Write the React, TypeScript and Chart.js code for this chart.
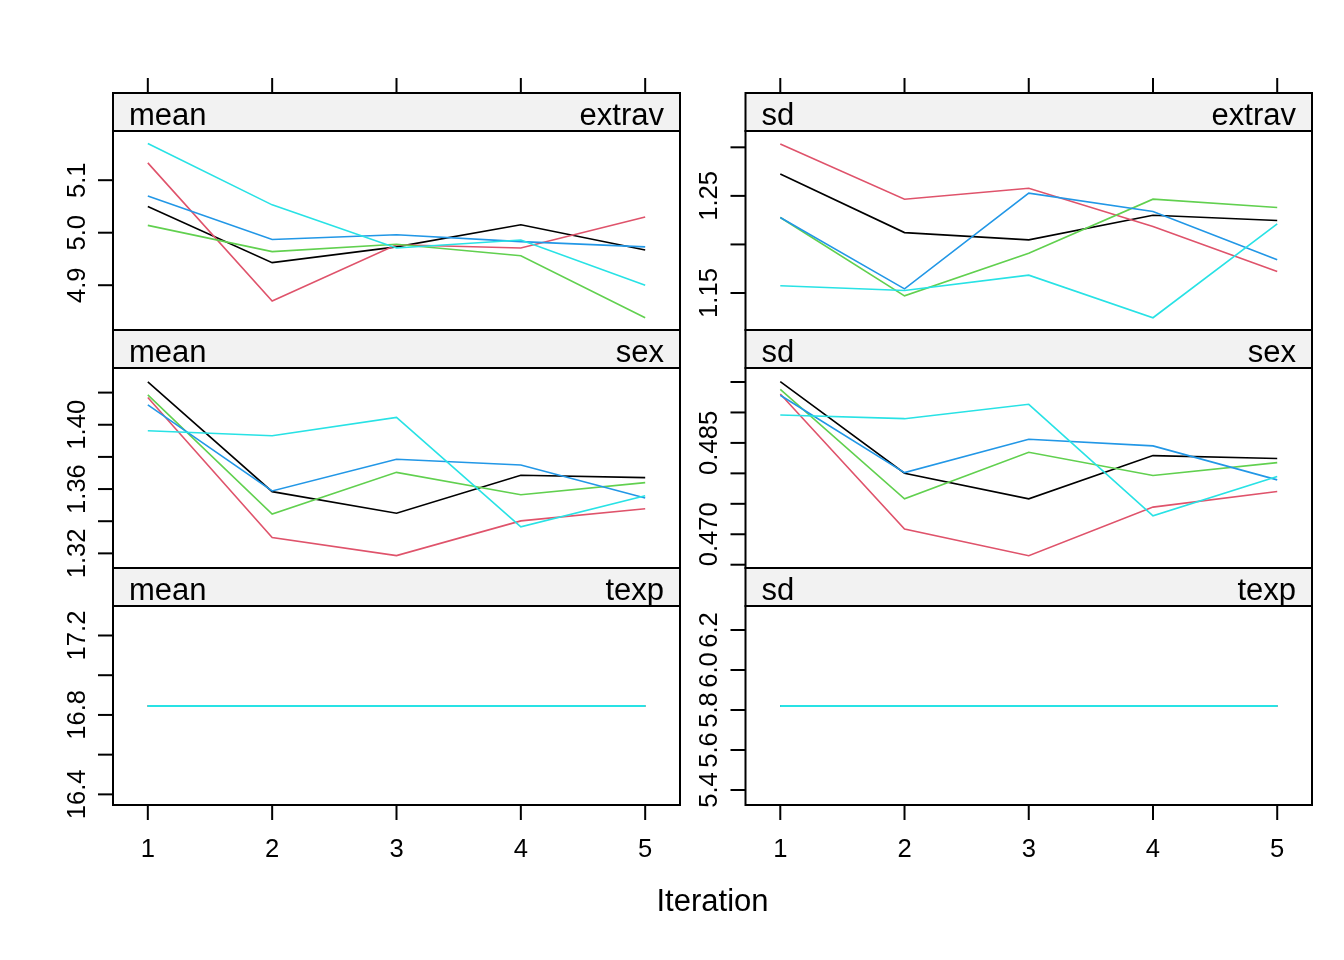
import React, { useEffect, useRef } from "react";
import { Chart, registerables } from "chart.js";
Chart.register(...registerables);

const W = 1344;
const H = 960;

const iterations = [1, 2, 3, 4, 5];
const chainColors = ["#000000", "#DF536B", "#61D04F", "#2297E6", "#28E2E5"];
const xTickLabels = ["1", "2", "3", "4", "5"];
const xAxisTitle = "Iteration";

// chains: black, red, green, blue, cyan
const meanExtrav = [
  [5.05, 4.943, 4.973, 5.015, 4.967],
  [5.133, 4.87, 4.977, 4.971, 5.03],
  [5.014, 4.964, 4.978, 4.956, 4.838],
  [5.07, 4.987, 4.996, 4.983, 4.973],
  [5.17, 5.053, 4.971, 4.986, 4.9],
];
const sdExtrav = [
  [1.2726, 1.2122, 1.2047, 1.2301, 1.2246],
  [1.3035, 1.2466, 1.2579, 1.2184, 1.1721],
  [1.2277, 1.1471, 1.191, 1.2466, 1.238],
  [1.2277, 1.1543, 1.2528, 1.2339, 1.1842],
  [1.1574, 1.1526, 1.1684, 1.1245, 1.2212],
];
const meanSex = [
  [1.4267, 1.3584, 1.345, 1.3686, 1.3671],
  [1.417, 1.3298, 1.3186, 1.3402, 1.3478],
  [1.4186, 1.3445, 1.3704, 1.3565, 1.364],
  [1.4124, 1.3588, 1.3785, 1.375, 1.3545],
  [1.3963, 1.3932, 1.4046, 1.3365, 1.3559],
];
const sdSex = [
  [0.49505, 0.48003, 0.47582, 0.48292, 0.48243],
  [0.49303, 0.47085, 0.46648, 0.47446, 0.47702],
  [0.4938, 0.47582, 0.48347, 0.47964, 0.48177],
  [0.49282, 0.48013, 0.48561, 0.48451, 0.47893],
  [0.48959, 0.48898, 0.49134, 0.47303, 0.47948],
];
const meanTexp = [
  [16.845, 16.845, 16.845, 16.845, 16.845],
  [16.845, 16.845, 16.845, 16.845, 16.845],
  [16.845, 16.845, 16.845, 16.845, 16.845],
  [16.845, 16.845, 16.845, 16.845, 16.845],
  [16.845, 16.845, 16.845, 16.845, 16.845],
];
const sdTexp = [
  [5.82, 5.82, 5.82, 5.82, 5.82],
  [5.82, 5.82, 5.82, 5.82, 5.82],
  [5.82, 5.82, 5.82, 5.82, 5.82],
  [5.82, 5.82, 5.82, 5.82, 5.82],
  [5.82, 5.82, 5.82, 5.82, 5.82],
];

const yTicksMeanExtrav = [4.9, 5.0, 5.1];
const yLabelsMeanExtrav = ["4.9", "5.0", "5.1"];
const yTicksSdExtrav = [1.15, 1.2, 1.25, 1.3];
const yLabelsSdExtrav = ["1.15", "", "1.25", ""];
const yTicksMeanSex = [1.32, 1.34, 1.36, 1.38, 1.4, 1.42];
const yLabelsMeanSex = ["1.32", "", "1.36", "", "1.40", ""];
const yTicksSdSex = [0.465, 0.47, 0.475, 0.48, 0.485, 0.49, 0.495];
const yLabelsSdSex = ["", "0.470", "", "", "0.485", "", ""];
const yTicksMeanTexp = [16.4, 16.6, 16.8, 17.0, 17.2];
const yLabelsMeanTexp = ["16.4", "", "16.8", "", "17.2"];
const yTicksSdTexp = [5.4, 5.6, 5.8, 6.0, 6.2];
const yLabelsSdTexp = ["5.4", "5.6", "5.8", "6.0", "6.2"];

const FONT = "'Liberation Sans', Arial, sans-serif";

type Panel = {
  stat: string;
  variable: string;
  values: number[][];
  yMin: number;
  yMax: number;
  yTicks: number[];
  yLabels: string[];
  col: number;
  row: number;
  lineWidth: number;
};

const panels: Panel[] = [
  { stat: "mean", variable: "extrav", values: meanExtrav, yMin: 4.8147, yMax: 5.1937, yTicks: yTicksMeanExtrav, yLabels: yLabelsMeanExtrav, col: 0, row: 0, lineWidth: 1.6 },
  { stat: "sd", variable: "extrav", values: sdExtrav, yMin: 1.1119, yMax: 1.3168, yTicks: yTicksSdExtrav, yLabels: yLabelsSdExtrav, col: 1, row: 0, lineWidth: 1.6 },
  { stat: "mean", variable: "sex", values: meanSex, yMin: 1.3109, yMax: 1.4353, yTicks: yTicksMeanSex, yLabels: yLabelsMeanSex, col: 0, row: 1, lineWidth: 1.6 },
  { stat: "sd", variable: "sex", values: sdSex, yMin: 0.46446, yMax: 0.4973, yTicks: yTicksSdSex, yLabels: yLabelsSdSex, col: 1, row: 1, lineWidth: 1.6 },
  { stat: "mean", variable: "texp", values: meanTexp, yMin: 16.3465, yMax: 17.3485, yTicks: yTicksMeanTexp, yLabels: yLabelsMeanTexp, col: 0, row: 2, lineWidth: 2 },
  { stat: "sd", variable: "texp", values: sdTexp, yMin: 5.325, yMax: 6.32, yTicks: yTicksSdTexp, yLabels: yLabelsSdTexp, col: 1, row: 2, lineWidth: 2 },
];

const colLeft = [113, 745.5];
const colRight = [680, 1312];
const rowStripTop = [93, 330, 568];
const rowPlotTop = [131, 368, 606];
const rowPlotBottom = [330, 568, 805];

function PanelChart({ panel }: { panel: Panel }) {
  const ref = useRef<HTMLCanvasElement | null>(null);
  useEffect(() => {
    const canvas = ref.current;
    if (!canvas) return;
    const left = colLeft[panel.col];
    const right = colRight[panel.col];
    const stripTop = rowStripTop[panel.row];
    const top = rowPlotTop[panel.row];
    const bottom = rowPlotBottom[panel.row];

    const plugin = {
      id: "latticePanel",
      afterDraw(chart: any) {
        const ctx = chart.ctx as CanvasRenderingContext2D;
        const a = chart.chartArea;
        const xs = chart.scales.x;
        const ys = chart.scales.y;
        ctx.save();
        // strip
        ctx.fillStyle = "#F2F2F2";
        ctx.fillRect(a.left, stripTop, a.right - a.left, a.top - stripTop);
        ctx.strokeStyle = "#000";
        ctx.lineWidth = 2;
        ctx.strokeRect(a.left, stripTop, a.right - a.left, a.top - stripTop);
        ctx.strokeRect(a.left, a.top, a.right - a.left, a.bottom - a.top);
        ctx.fillStyle = "#000";
        ctx.font = `31px ${FONT}`;
        ctx.textBaseline = "alphabetic";
        ctx.textAlign = "left";
        ctx.fillText(panel.stat, a.left + 16, a.top - 6.5);
        ctx.textAlign = "right";
        ctx.fillText(panel.variable, a.right - 16, a.top - 6.5);
        // y ticks
        ctx.lineWidth = 2;
        ctx.font = `25.6px ${FONT}`;
        panel.yTicks.forEach((v, i) => {
          const y = ys.getPixelForValue(v);
          ctx.beginPath();
          ctx.moveTo(a.left - 15, y);
          ctx.lineTo(a.left, y);
          ctx.stroke();
          const lab = panel.yLabels[i];
          if (lab) {
            ctx.save();
            ctx.translate(a.left - 28.5, y);
            ctx.rotate(-Math.PI / 2);
            ctx.textAlign = "center";
            ctx.textBaseline = "alphabetic";
            ctx.fillText(lab, 0, 0);
            ctx.restore();
          }
        });
        // x ticks
        if (panel.row === 0) {
          iterations.forEach((it) => {
            const x = xs.getPixelForValue(it);
            ctx.beginPath();
            ctx.moveTo(x, stripTop - 15);
            ctx.lineTo(x, stripTop);
            ctx.stroke();
          });
        }
        if (panel.row === 2) {
          ctx.textAlign = "center";
          ctx.textBaseline = "alphabetic";
          iterations.forEach((it, i) => {
            const x = xs.getPixelForValue(it);
            ctx.beginPath();
            ctx.moveTo(x, a.bottom);
            ctx.lineTo(x, a.bottom + 15);
            ctx.stroke();
            ctx.fillText(xTickLabels[i], x, 857);
          });
          if (panel.col === 0) {
            ctx.font = `31px ${FONT}`;
            ctx.fillText(xAxisTitle, (colLeft[0] + colRight[1]) / 2, 911);
          }
        }
        ctx.restore();
      },
    };

    const chart = new Chart(canvas, {
      type: "line",
      data: {
        labels: iterations,
        datasets: panel.values.map((vals, i) => ({
          label: `chain ${i + 1}`,
          data: vals.map((v, j) => ({ x: iterations[j], y: v })),
          borderColor: chainColors[i],
          backgroundColor: chainColors[i],
          borderWidth: panel.lineWidth,
          pointRadius: 0,
          tension: 0,
          fill: false,
          order: panel.values.length - i,
        })),
      },
      options: {
        responsive: false,
        maintainAspectRatio: false,
        devicePixelRatio: 1,
        animation: false,
        events: [],
        layout: {
          padding: { left, top, right: W - right, bottom: H - bottom },
        },
        plugins: {
          legend: { display: false },
          title: { display: false },
          tooltip: { enabled: false },
        },
        scales: {
          x: { type: "linear", min: 0.72, max: 5.28, display: false },
          y: { type: "linear", min: panel.yMin, max: panel.yMax, display: false },
        },
      },
      plugins: [plugin],
    });
    return () => chart.destroy();
  }, [panel]);
  return (
    <canvas
      ref={ref}
      width={W}
      height={H}
      style={{ position: "absolute", left: 0, top: 0, width: W, height: H }}
    />
  );
}

export default function App() {
  return (
    <div
      style={{
        position: "fixed",
        left: 0,
        top: 0,
        width: W,
        height: H,
        background: "#ffffff",
        overflow: "hidden",
      }}
    >
      {panels.map((p, i) => (
        <PanelChart key={i} panel={p} />
      ))}
    </div>
  );
}
